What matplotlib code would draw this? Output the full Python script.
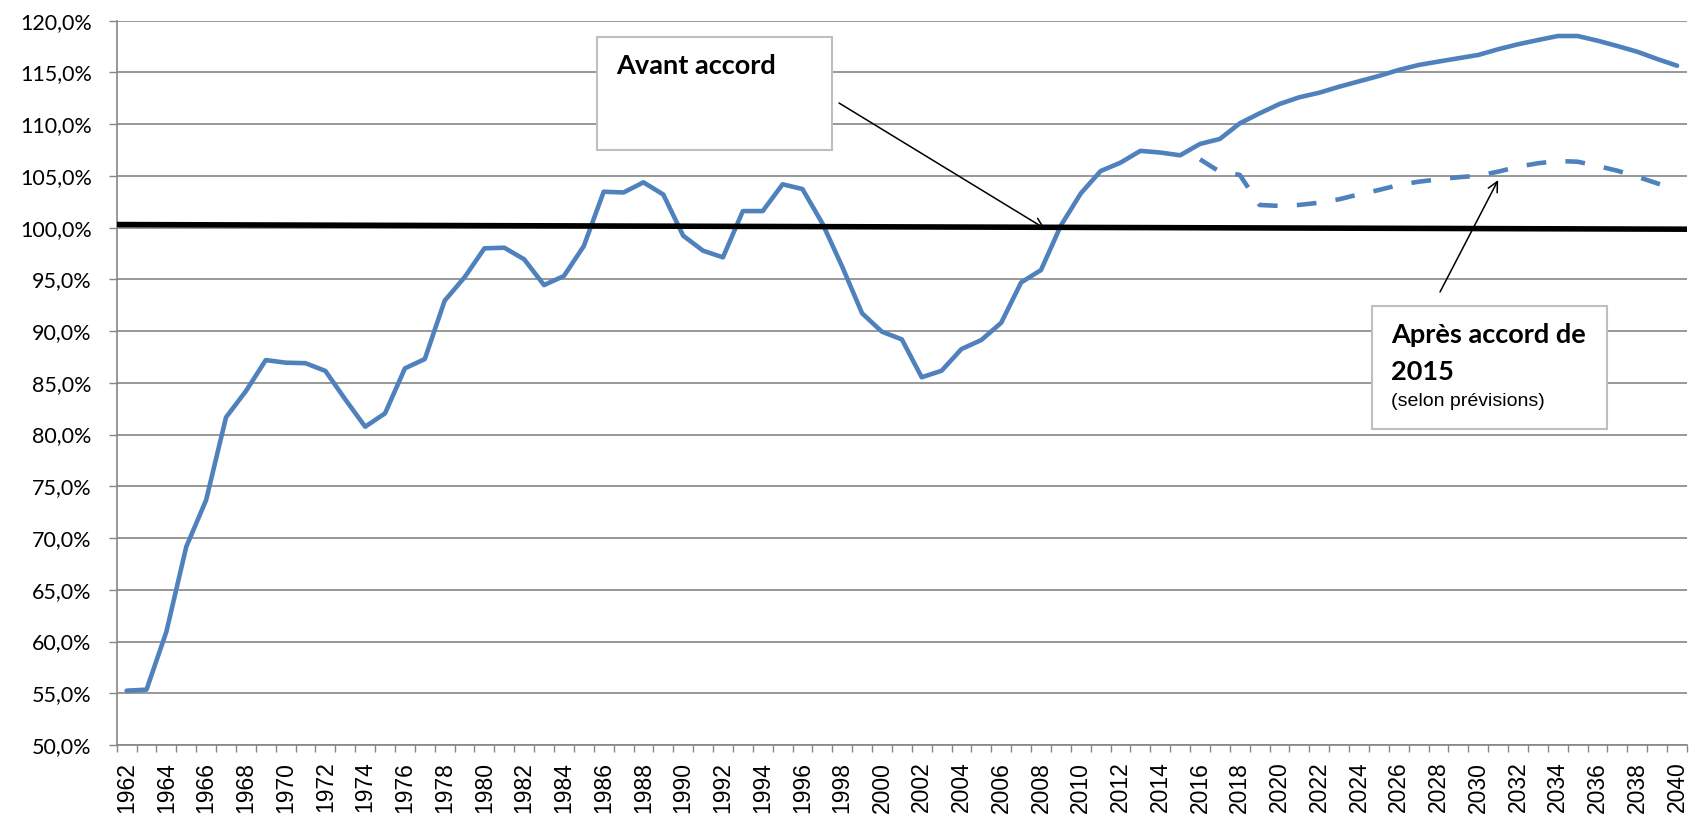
import matplotlib
matplotlib.use("Agg")
import matplotlib.pyplot as plt
from matplotlib.patches import Rectangle
from matplotlib.ticker import FuncFormatter

years = list(range(1962, 2041))
avant = [55.25, 55.35, 60.95, 69.16, 73.68, 81.67, 84.2, 87.2, 86.95, 86.9,
         86.15, 83.4, 80.76, 82.05, 86.4, 87.3, 92.94, 95.2, 98.0, 98.06,
         96.94, 94.45, 95.33, 98.22, 103.47, 103.4, 104.38, 103.2, 99.22, 97.77,
         97.13, 101.6, 101.6, 104.19, 103.73, 100.42, 96.23, 91.72, 89.94, 89.2,
         85.54, 86.17, 88.27, 89.14, 90.81, 94.7, 95.9, 100.2, 103.3, 105.47,
         106.28, 107.42, 107.26, 106.99, 108.09, 108.57, 110.08, 111.05, 111.95, 112.6,
         113.04, 113.62, 114.14, 114.66, 115.24, 115.72, 116.05, 116.37, 116.69, 117.24,
         117.72, 118.13, 118.52, 118.52, 118.07, 117.55, 117.0, 116.3, 115.65]
apres_years = list(range(2016, 2041))
apres = [106.6, 105.4, 105.1, 102.19, 102.1, 102.2, 102.41, 102.74, 103.22, 103.64,
         104.12, 104.44, 104.67, 104.87, 105.02, 105.41, 105.89, 106.22, 106.44, 106.37,
         105.96, 105.5, 104.92, 104.28, 103.64]
ref_start, ref_end = 100.3, 99.85

W, H = 1690, 816
blue = "#4F81BD"
grey = "#868686"


def fpx(x, y):
  # pixel position (from top left) -> figure fraction
  return x / W, 1 - y / H


fig = plt.figure(figsize=(W / 100, H / 100), dpi=100)
ax = fig.add_axes([0.06905, 0.08701, 0.92917, 0.88762])

n = len(years)
ax.plot(range(n), avant, color=blue, lw=3.3, solid_joinstyle="round",
        solid_capstyle="round", zorder=3)
start = years.index(apres_years[0])
ax.plot(range(start, start + len(apres)), apres, color=blue, lw=3.3,
        ls=(0, (4.3, 4.2)), zorder=3)
ax.plot([-0.5, n - 0.5], [ref_start, ref_end], color="black", lw=4, zorder=4)

ax.set_xlim(-0.5, n - 0.5)
ax.set_ylim(50, 120)
ax.set_xticks(range(0, n, 2))
ax.set_xticklabels([str(y) for y in years[::2]], rotation=90,
                   family="Liberation Sans", fontsize=16.5)
ax.set_xticks([k - 0.5 for k in range(n + 1)], minor=True)
ax.tick_params(axis="x", which="major", length=0, pad=12)
ax.tick_params(axis="x", which="minor", length=5, width=1, color=grey)

ax.set_yticks(range(50, 121, 5))
ax.yaxis.set_major_formatter(FuncFormatter(lambda v, p: f"{v:.1f}".replace(".", ",") + "%"))
for lab in ax.get_yticklabels():
  lab.set_family("Lato")
  lab.set_fontsize(15.5)
ax.tick_params(axis="y", length=6, width=1, color=grey, pad=12)
ax.yaxis.grid(True, color=grey, lw=1.2)
ax.set_axisbelow(True)
for s in ["top", "right"]:
  ax.spines[s].set_visible(False)
for s in ["left", "bottom"]:
  ax.spines[s].set_color(grey)
  ax.spines[s].set_linewidth(1.2)

# text boxes
for (x0, y0, x1, y1) in [(597, 37, 832, 150), (1372, 306, 1607, 429)]:
  fx, fy = fpx(x0, y1)
  fig.add_artist(Rectangle((fx, fy), (x1 - x0) / W, (y1 - y0) / H,
                           transform=fig.transFigure, facecolor="white",
                           edgecolor="#BFBFBF", lw=1.5, zorder=5))

fig.text(*fpx(616, 74), "Avant accord", family="Lato", weight="bold",
         fontsize=19.5, va="baseline", zorder=6)
fig.text(*fpx(1391, 343), "Après accord de", family="Lato", weight="bold",
         fontsize=19.5, va="baseline", zorder=6)
fig.text(*fpx(1391, 380), "2015", family="Lato", weight="bold",
         fontsize=19.5, va="baseline", zorder=6)
fig.text(*fpx(1391, 406), "(selon prévisions)", family="Liberation Sans",
         fontsize=14, va="baseline", zorder=6)

arrow = dict(arrowstyle="->", color="black", lw=1.1, mutation_scale=18,
             shrinkA=0, shrinkB=0)
ax.annotate("", xy=(46.2, 99.9), xytext=(839, H - 103), textcoords="figure pixels",
            arrowprops=arrow, zorder=6)
ax.annotate("", xy=(69.0, 104.6), xytext=(1440, H - 292), textcoords="figure pixels",
            arrowprops=arrow, zorder=6)

fig.savefig("out.png", dpi=100)
